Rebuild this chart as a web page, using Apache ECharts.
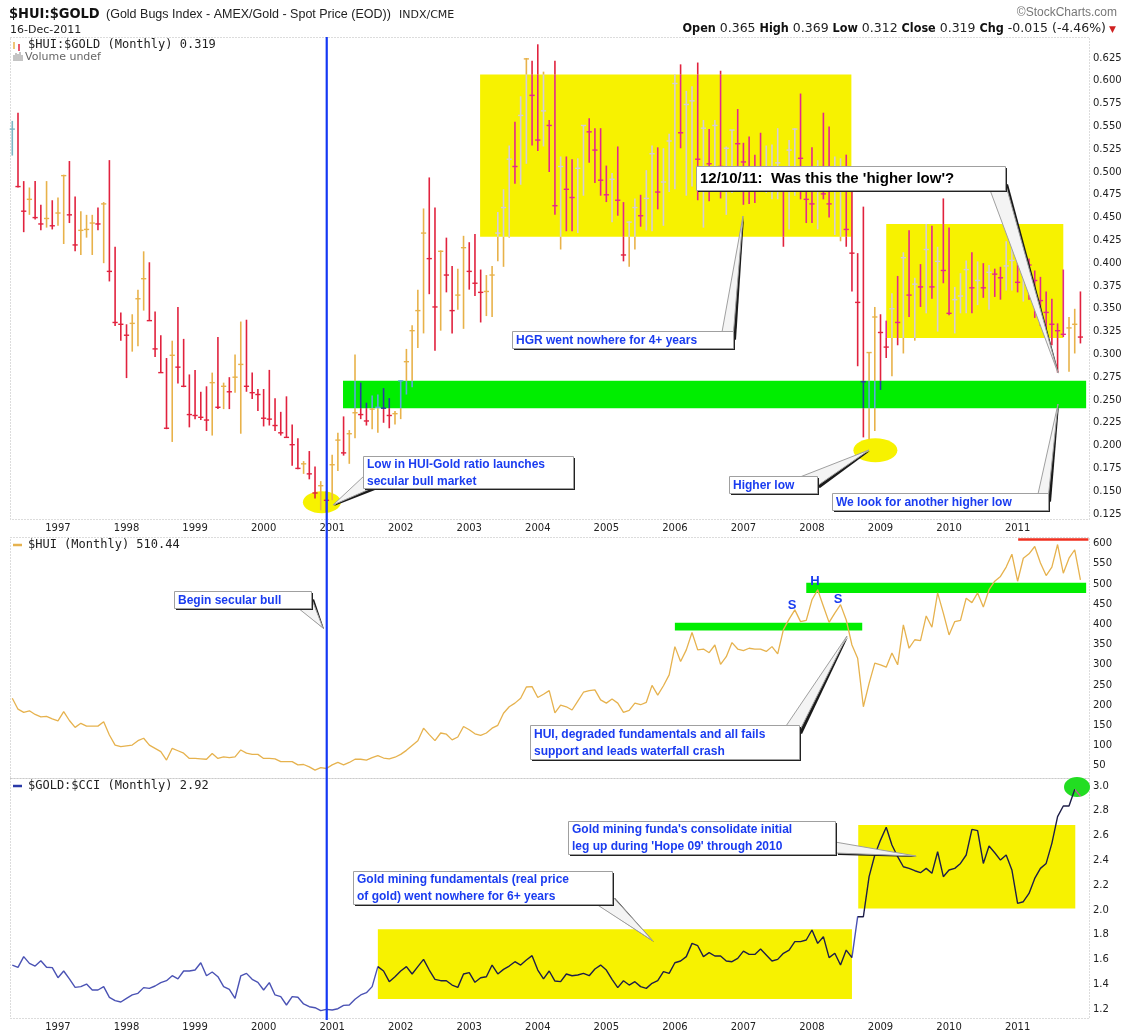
<!DOCTYPE html>
<html>
<head>
<meta charset="utf-8">
<script src="https://cdn.jsdelivr.net/npm/echarts@6/dist/echarts.min.js"></script>
<style>
  html, body { margin: 0; padding: 0; background: #fff; }
  #chart { width: 1127px; height: 1034px; }
</style>
</head>
<body>
<div id="chart"></div>
<script>
// first bar is May 1996, one bar per month up to Dec 2011
var startYear = 1996, startMonth = 5;
var years = [1997, 1998, 1999, 2000, 2001, 2002, 2003, 2004, 2005, 2006, 2007, 2008, 2009, 2010, 2011];

var hgrTicks = [0.125, 0.15, 0.175, 0.2, 0.225, 0.25, 0.275, 0.3, 0.325, 0.35, 0.375, 0.4, 0.425,
  0.45, 0.475, 0.5, 0.525, 0.55, 0.575, 0.6, 0.625];
var huiTicks = [50, 100, 150, 200, 250, 300, 350, 400, 450, 500, 550, 600];
var cciTicks = [1.2, 1.4, 1.6, 1.8, 2.0, 2.2, 2.4, 2.6, 2.8, 3.0];

// $HUI:$GOLD monthly bars
var hgrHigh = [
  0.556, 0.565, 0.490, 0.483, 0.490, 0.464, 0.490, 0.469, 0.472, 0.497,
  0.512, 0.473, 0.457, 0.453, 0.453, 0.461, 0.467, 0.513, 0.418, 0.346,
  0.333, 0.344, 0.371, 0.413, 0.401, 0.347, 0.321, 0.296, 0.315, 0.352,
  0.317, 0.278, 0.283, 0.259, 0.265, 0.280, 0.319, 0.269, 0.275, 0.300,
  0.336, 0.338, 0.280, 0.262, 0.262, 0.283, 0.252, 0.237, 0.254, 0.223,
  0.208, 0.183, 0.194, 0.177, 0.161, 0.150, 0.190, 0.214, 0.232, 0.217,
  0.300, 0.269, 0.247, 0.255, 0.256, 0.263, 0.252, 0.238, 0.271, 0.306,
  0.332, 0.371, 0.460, 0.494, 0.461, 0.414, 0.428, 0.397, 0.394, 0.430,
  0.423, 0.432, 0.393, 0.387, 0.397, 0.456, 0.481, 0.529, 0.555, 0.583,
  0.625, 0.622, 0.640, 0.610, 0.557, 0.622, 0.517, 0.517, 0.514, 0.515,
  0.551, 0.559, 0.548, 0.548, 0.507, 0.499, 0.528, 0.467, 0.446, 0.471,
  0.475, 0.502, 0.529, 0.527, 0.526, 0.542, 0.607, 0.618, 0.589, 0.594,
  0.620, 0.557, 0.547, 0.557, 0.611, 0.528, 0.546, 0.569, 0.532, 0.539,
  0.519, 0.543, 0.529, 0.530, 0.548, 0.500, 0.535, 0.548, 0.586, 0.490,
  0.527, 0.513, 0.565, 0.550, 0.517, 0.515, 0.519, 0.483, 0.411, 0.462,
  0.302, 0.352, 0.344, 0.337, 0.367, 0.386, 0.412, 0.436, 0.384, 0.399,
  0.443, 0.441, 0.418, 0.471, 0.439, 0.374, 0.389, 0.403, 0.412, 0.402,
  0.400, 0.398, 0.394, 0.396, 0.424, 0.422, 0.411, 0.400, 0.405, 0.392,
  0.385, 0.369, 0.361, 0.334, 0.393, 0.341, 0.350, 0.369
];
var hgrLow = [
  0.518, 0.483, 0.434, 0.453, 0.448, 0.436, 0.439, 0.437, 0.441, 0.421,
  0.444, 0.413, 0.409, 0.428, 0.409, 0.436, 0.400, 0.380, 0.331, 0.315,
  0.274, 0.303, 0.309, 0.348, 0.337, 0.297, 0.280, 0.218, 0.204, 0.268,
  0.264, 0.220, 0.229, 0.228, 0.216, 0.211, 0.240, 0.240, 0.240, 0.258,
  0.213, 0.259, 0.251, 0.238, 0.221, 0.222, 0.216, 0.211, 0.209, 0.178,
  0.174, 0.169, 0.163, 0.142, 0.129, 0.127, 0.140, 0.172, 0.189, 0.180,
  0.208, 0.229, 0.222, 0.218, 0.214, 0.225, 0.219, 0.223, 0.229, 0.256,
  0.264, 0.307, 0.323, 0.366, 0.304, 0.326, 0.368, 0.323, 0.349, 0.328,
  0.371, 0.364, 0.335, 0.342, 0.341, 0.402, 0.396, 0.428, 0.487, 0.486,
  0.509, 0.529, 0.523, 0.528, 0.500, 0.453, 0.415, 0.435, 0.435, 0.433,
  0.474, 0.510, 0.488, 0.474, 0.467, 0.445, 0.452, 0.402, 0.396, 0.415,
  0.440, 0.436, 0.435, 0.459, 0.441, 0.478, 0.481, 0.526, 0.474, 0.484,
  0.469, 0.439, 0.468, 0.486, 0.471, 0.453, 0.477, 0.484, 0.464, 0.465,
  0.466, 0.485, 0.477, 0.470, 0.470, 0.418, 0.437, 0.474, 0.470, 0.444,
  0.444, 0.437, 0.470, 0.450, 0.431, 0.424, 0.418, 0.369, 0.287, 0.209,
  0.207, 0.216, 0.261, 0.296, 0.276, 0.310, 0.301, 0.341, 0.315, 0.352,
  0.345, 0.361, 0.325, 0.378, 0.343, 0.323, 0.345, 0.345, 0.345, 0.354,
  0.362, 0.349, 0.363, 0.360, 0.370, 0.370, 0.368, 0.358, 0.360, 0.340,
  0.331, 0.320, 0.310, 0.280, 0.319, 0.281, 0.301, 0.312
];
var hgrClose = [
  0.547, 0.484, 0.457, 0.470, 0.450, 0.443, 0.449, 0.441, 0.455, 0.496,
  0.453, 0.420, 0.436, 0.437, 0.444, 0.443, 0.465, 0.391, 0.335, 0.333,
  0.321, 0.334, 0.361, 0.383, 0.337, 0.306, 0.280, 0.219, 0.299, 0.286,
  0.265, 0.234, 0.233, 0.231, 0.228, 0.269, 0.242, 0.265, 0.259, 0.275,
  0.289, 0.265, 0.258, 0.256, 0.230, 0.229, 0.222, 0.214, 0.209, 0.201,
  0.175, 0.180, 0.169, 0.148, 0.156, 0.140, 0.179, 0.206, 0.192, 0.213,
  0.236, 0.234, 0.227, 0.240, 0.242, 0.241, 0.233, 0.235, 0.271, 0.292,
  0.326, 0.348, 0.433, 0.405, 0.352, 0.413, 0.387, 0.348, 0.365, 0.417,
  0.391, 0.378, 0.368, 0.369, 0.387, 0.433, 0.461, 0.514, 0.506, 0.562,
  0.624, 0.584, 0.535, 0.567, 0.551, 0.463, 0.506, 0.481, 0.472, 0.504,
  0.551, 0.544, 0.524, 0.491, 0.475, 0.492, 0.469, 0.409, 0.445, 0.461,
  0.452, 0.471, 0.520, 0.478, 0.489, 0.534, 0.597, 0.543, 0.574, 0.578,
  0.514, 0.548, 0.509, 0.551, 0.506, 0.526, 0.546, 0.531, 0.511, 0.505,
  0.490, 0.487, 0.500, 0.505, 0.510, 0.480, 0.524, 0.547, 0.515, 0.470,
  0.465, 0.490, 0.476, 0.465, 0.480, 0.485, 0.437, 0.411, 0.357, 0.270,
  0.302, 0.341, 0.324, 0.308, 0.350, 0.335, 0.406, 0.365, 0.377, 0.374,
  0.415, 0.374, 0.402, 0.392, 0.345, 0.360, 0.364, 0.393, 0.373, 0.381,
  0.373, 0.390, 0.388, 0.384, 0.397, 0.403, 0.379, 0.400, 0.398, 0.381,
  0.359, 0.346, 0.333, 0.326, 0.322, 0.329, 0.333, 0.319
];

// $HUI monthly close
var hui = [
  217, 190, 182, 186, 177, 171, 172, 166, 161, 184,
  162, 145, 155, 148, 148, 148, 159, 126, 101, 97,
  99, 101, 112, 118, 101, 93, 85, 64, 93, 87,
  81, 68, 68, 67, 66, 80, 68, 72, 70, 72,
  89, 81, 78, 78, 68, 68, 67, 60, 60, 60,
  52, 53, 47, 39, 45, 43, 52, 58, 52, 58,
  66, 66, 64, 70, 75, 69, 67, 71, 78, 88,
  100, 112, 143, 127, 112, 131, 128, 114, 121, 147,
  139, 129, 125, 131, 143, 150, 180, 196, 205, 217,
  245, 246, 219, 227, 236, 181, 200, 196, 188, 210,
  232, 236, 238, 213, 205, 215, 205, 182, 187, 205,
  201, 207, 249, 225, 248, 275, 345, 308, 337, 380,
  337, 339, 330, 349, 301, 320, 355, 339, 335, 341,
  339, 339, 333, 345, 327, 387, 413, 436, 407, 410,
  461, 486, 445, 405, 428, 449, 411, 349, 316, 196,
  254, 304, 300, 294, 329, 300, 399, 341, 362, 360,
  421, 393, 478, 428, 374, 407, 410, 465, 454, 478,
  443, 486, 507, 519, 542, 574, 507, 564, 575, 593,
  552, 521, 542, 598, 527, 564, 585, 510.44
];

// $GOLD:$CCI monthly close
var goldCci = [
  1.556, 1.538, 1.624, 1.570, 1.548, 1.591, 1.538, 1.535, 1.454, 1.508,
  1.444, 1.376, 1.382, 1.403, 1.355, 1.355, 1.382, 1.296, 1.269, 1.258,
  1.288, 1.315, 1.328, 1.374, 1.368, 1.387, 1.414, 1.430, 1.470, 1.444,
  1.508, 1.508, 1.516, 1.575, 1.470, 1.500, 1.462, 1.382, 1.360, 1.288,
  1.468, 1.489, 1.441, 1.417, 1.355, 1.414, 1.315, 1.301, 1.234, 1.301,
  1.296, 1.242, 1.220, 1.212, 1.188, 1.199, 1.194, 1.204, 1.231, 1.234,
  1.280, 1.315, 1.333, 1.382, 1.543, 1.508, 1.422, 1.462, 1.508, 1.543,
  1.484, 1.543, 1.602, 1.516, 1.441, 1.430, 1.430, 1.395, 1.376, 1.484,
  1.495, 1.417, 1.454, 1.462, 1.556, 1.484, 1.521, 1.548, 1.583, 1.556,
  1.597, 1.632, 1.516, 1.444, 1.508, 1.427, 1.422, 1.484, 1.470, 1.476,
  1.489, 1.470, 1.524, 1.556, 1.516, 1.441, 1.374, 1.430, 1.395, 1.422,
  1.382, 1.368, 1.409, 1.430, 1.503, 1.489, 1.575, 1.589, 1.624, 1.731,
  1.712, 1.624, 1.656, 1.629, 1.629, 1.589, 1.583, 1.610, 1.669, 1.642,
  1.642, 1.685, 1.637, 1.589, 1.602, 1.651, 1.677, 1.745, 1.745, 1.758,
  1.839, 1.731, 1.785, 1.616, 1.651, 1.556, 1.677, 1.616, 1.946, 1.946,
  2.269, 2.444, 2.564, 2.667, 2.524, 2.430, 2.349, 2.336, 2.317, 2.301,
  2.336, 2.296, 2.470, 2.269, 2.323, 2.336, 2.376, 2.444, 2.651, 2.640,
  2.376, 2.516, 2.462, 2.403, 2.444, 2.323, 2.054, 2.067, 2.134, 2.255,
  2.336, 2.376, 2.538, 2.753, 2.839, 2.839, 2.973, 2.92
];

// hand drawn annotation boxes, in month index / value units: [x0, x1, yLow, yHigh]
var hgrYellow = [[81.9, 146.9, 0.429, 0.607], [153.0, 184.0, 0.318, 0.443]];
var hgrGreen = [[57.9, 188.0, 0.241, 0.271]];
var huiGreen = [[116.0, 148.8, 385, 404], [139.0, 188.0, 478, 503]];
var cciYellow = [[64.0, 147.0, 1.282, 1.844], [148.1, 186.1, 2.013, 2.685]];

var janIdx = years.map(function (y) { return (y - startYear) * 12 - (startMonth - 1); });

var barColors = {
  first: '#7db6c4',
  up: '#e8b24a', down: '#e1223e',
  yellowUp: '#d5ccd8', yellowDown: '#e5288c',
  greenUp: '#5aa8dc', greenDown: '#2b3aa0'
};

function zoneAt(i, v) {
  for (var k = 0; k < hgrYellow.length; k++) {
    var b = hgrYellow[k];
    if (i >= b[0] && i <= b[1] && v >= b[2] && v <= b[3]) return 'yellow';
  }
  for (k = 0; k < hgrGreen.length; k++) {
    b = hgrGreen[k];
    if (i >= b[0] && i <= b[1] && v >= b[2] && v <= b[3]) return 'green';
  }
  return '';
}

function barColor(i, v, up) {
  if (up === null) return barColors.first;
  var z = zoneAt(i, v);
  if (z === 'yellow') return up ? barColors.yellowUp : barColors.yellowDown;
  if (z === 'green') return up ? barColors.greenUp : barColors.greenDown;
  return up ? barColors.up : barColors.down;
}

function renderBar(params, api) {
  var i = api.value(0), hi = api.value(1), lo = api.value(2), cl = api.value(3);
  var idx = params.dataIndex;
  var up = idx > 0 ? cl >= hgrClose[idx - 1] : null;
  // split the high-low line where it crosses a shaded box, StockCharts recolours that part
  var cuts = [lo, hi];
  hgrYellow.concat(hgrGreen).forEach(function (b) {
    if (i >= b[0] && i <= b[1]) {
      [b[2], b[3]].forEach(function (v) { if (v > lo && v < hi) cuts.push(v); });
    }
  });
  cuts.sort(function (a, b) { return a - b; });
  var x = api.coord([i, hi])[0];
  var children = [];
  for (var k = 0; k < cuts.length - 1; k++) {
    var mid = (cuts[k] + cuts[k + 1]) / 2;
    children.push({
      type: 'line',
      shape: { x1: x, y1: api.coord([i, cuts[k]])[1], x2: x, y2: api.coord([i, cuts[k + 1]])[1] },
      style: { stroke: barColor(i, mid, up), lineWidth: 1.6 }
    });
  }
  var yc = api.coord([i, cl])[1];
  children.push({
    type: 'line',
    shape: { x1: x - 2.6, y1: yc, x2: x + 2.6, y2: yc },
    style: { stroke: barColor(i, cl, up), lineWidth: 1.4 }
  });
  return { type: 'group', children: children };
}

function renderBox(params, api) {
  var p0 = api.coord([api.value(0), api.value(3)]);
  var p1 = api.coord([api.value(1), api.value(2)]);
  return {
    type: 'rect',
    shape: { x: p0[0], y: p0[1], width: p1[0] - p0[0], height: p1[1] - p0[1] },
    style: { fill: api.visual('color') }
  };
}

var axisFont = { fontFamily: 'DejaVu Sans', fontSize: 10, color: '#222' };

function xAxisFor(g, labels) {
  return {
    type: 'value', gridIndex: g, min: -0.4, max: 188.5,
    axisLine: { show: false }, axisTick: { show: false }, splitLine: { show: false },
    axisLabel: {
      show: labels, margin: 4,
      customValues: janIdx,
      formatter: function (v) { return String(years[Math.round((v - janIdx[0]) / 12)]); },
      fontFamily: axisFont.fontFamily, fontSize: axisFont.fontSize, color: axisFont.color
    }
  };
}

function yAxisFor(g, min, max, ticks, digits) {
  return {
    type: 'value', gridIndex: g, position: 'right', min: min, max: max,
    axisLine: { show: false }, splitLine: { show: false }, axisTick: { show: false },
    axisLabel: {
      margin: 4, customValues: ticks,
      formatter: function (v) { return v.toFixed(digits); },
      fontFamily: axisFont.fontFamily, fontSize: axisFont.fontSize, color: axisFont.color
    }
  };
}

var chart = echarts.init(document.getElementById('chart'), null, { renderer: 'canvas' });

var option = {
  animation: false,
  backgroundColor: '#fff',
  grid: [
    { left: 10, right: 38, top: 37, height: 482 },
    { left: 10, right: 38, top: 537, height: 241 },
    { left: 10, right: 38, top: 778, height: 240 }
  ],
  xAxis: [xAxisFor(0, true), xAxisFor(1, false), xAxisFor(2, true)],
  yAxis: [
    yAxisFor(0, 0.1195, 0.648, hgrTicks, 3),
    yAxisFor(1, 19.5, 616.6, huiTicks, 0),
    yAxisFor(2, 1.129, 3.065, cciTicks, 1)
  ],
  visualMap: [{
    show: false, type: 'piecewise', seriesIndex: 6, dimension: 0,
    pieces: [
      { lt: cciYellow[0][0], color: '#4a52b4' },
      { gte: cciYellow[0][0], lt: cciYellow[0][1], color: '#1e1e48' },
      { gte: cciYellow[0][1], lt: cciYellow[1][0], color: '#4a52b4' },
      { gte: cciYellow[1][0], lt: cciYellow[1][1], color: '#1e1e48' },
      { gte: cciYellow[1][1], color: '#c05a9a' }
    ]
  }],
  series: [
    { type: 'custom', name: 'yellow', xAxisIndex: 0, yAxisIndex: 0, z: 1, silent: true,
      itemStyle: { color: '#f7f200' }, renderItem: renderBox, data: hgrYellow },
    { type: 'custom', name: 'green', xAxisIndex: 0, yAxisIndex: 0, z: 1, silent: true,
      itemStyle: { color: '#00ee00' }, renderItem: renderBox, data: hgrGreen },
    { type: 'custom', name: '$HUI:$GOLD', xAxisIndex: 0, yAxisIndex: 0, z: 3,
      renderItem: renderBar,
      data: hgrClose.map(function (c, i) { return [i, hgrHigh[i], hgrLow[i], c]; }) },
    { type: 'custom', name: 'huiGreen', xAxisIndex: 1, yAxisIndex: 1, z: 1, silent: true,
      itemStyle: { color: '#00ee00' }, renderItem: renderBox, data: huiGreen },
    { type: 'line', name: '$HUI', xAxisIndex: 1, yAxisIndex: 1, z: 3,
      symbol: 'none', lineStyle: { color: '#e6b24e', width: 1.3 }, itemStyle: { color: '#e6b24e' },
      data: hui.map(function (v, i) { return [i, v]; }),
      markLine: {
        silent: true, symbol: 'none', label: { show: false },
        lineStyle: { color: '#f03020', width: 2.5, type: 'solid' },
        data: [[{ coord: [176.1, 611] }, { coord: [188.4, 611] }]]
      } },
    { type: 'custom', name: 'cciYellow', xAxisIndex: 2, yAxisIndex: 2, z: 1, silent: true,
      itemStyle: { color: '#f7f200' }, renderItem: renderBox, data: cciYellow },
    { type: 'line', name: '$GOLD:$CCI', xAxisIndex: 2, yAxisIndex: 2, z: 3,
      symbol: 'none', lineStyle: { width: 1.4 },
      data: goldCci.map(function (v, i) { return [i, v]; }) }
  ]
};

chart.setOption(option);

function px(g, i, v) { return chart.convertToPixel({ gridIndex: g }, [i, v]); }

var blue = '#1a3cf0';
var graphics = [];

// panel frames
[[10, 37, 1079, 482], [10, 537, 1079, 241], [10, 778, 1079, 240]].forEach(function (r) {
  graphics.push({ type: 'rect', z: 0, silent: true,
    shape: { x: r[0] + 0.5, y: r[1] + 0.5, width: r[2], height: r[3] },
    style: { fill: null, stroke: '#b8b8b8', lineWidth: 1, lineDash: [1, 2] } });
});

// yellow / green ellipses
function ellipse(g, i, v, rx, ry, color, z) {
  var p = px(g, i, v);
  graphics.push({ type: 'ellipse', z: z, silent: true,
    shape: { cx: p[0], cy: p[1], rx: rx, ry: ry }, style: { fill: color } });
}
ellipse(0, 54.2, 0.138, 19, 11, '#f7f200', 2);
ellipse(0, 151.1, 0.195, 22, 12, '#f7f200', 2);
ellipse(2, 186.4, 2.992, 13, 10, '#22dd22', 2);

// vertical "begin secular bull" line through all panels
var vx = px(0, 55.05, 0.3)[0];
graphics.push({ type: 'line', z: 40, silent: true,
  shape: { x1: vx, y1: 37, x2: vx, y2: 1020 }, style: { stroke: '#1438f4', lineWidth: 2.2 } });

function callout(c) {
  var b0 = c.base[0], b1 = c.base[1], t = c.tip;
  graphics.push({ type: 'polygon', z: 50, silent: true,
    shape: { points: [[b0[0] + 2, b0[1] + 1], [b1[0] + 3, b1[1] + 2], [t[0] + 1, t[1] + 1]] },
    style: { fill: '#1a1a1a' } });
  graphics.push({ type: 'polygon', z: 51, silent: true,
    shape: { points: [b0, b1, t] },
    style: { fill: '#f4f4f4', stroke: '#a0a0a0', lineWidth: 1 } });
  graphics.push({ type: 'rect', z: 52, silent: true,
    shape: { x: c.x + 2, y: c.y + 2, width: c.w, height: c.h }, style: { fill: '#222' } });
  graphics.push({ type: 'rect', z: 53, silent: true,
    shape: { x: c.x + 0.5, y: c.y + 0.5, width: c.w, height: c.h },
    style: { fill: '#fff', stroke: '#a0a0a0', lineWidth: 1 } });
  graphics.push({ type: 'text', z: 54, silent: true, x: c.x + 4, y: c.y + c.h / 2 + 1,
    style: { text: c.text, fill: c.color || blue, font: c.font || 'bold 12px "Liberation Sans"',
      verticalAlign: 'middle', lineHeight: 17 } });
}

callout({ x: 363, y: 456, w: 210, h: 32, text: 'Low in HUI-Gold ratio launches\nsecular bull market',
  base: [[364, 476], [372, 488]], tip: [333, 505] });
callout({ x: 512, y: 331, w: 221, h: 17, text: 'HGR went nowhere for 4+ years',
  base: [[722, 332], [733, 338]], tip: [743, 216] });
callout({ x: 696, y: 166, w: 309, h: 24, text: "12/10/11:  Was this the 'higher low'?",
  color: '#000', font: 'bold 15px "Liberation Sans"',
  base: [[990, 190], [1005, 182]], tip: [1058, 373] });
callout({ x: 729, y: 476, w: 88, h: 17, text: 'Higher low',
  base: [[800, 477], [817, 486]], tip: [869, 450] });
callout({ x: 832, y: 493, w: 216, h: 17, text: 'We look for another higher low',
  base: [[1038, 494], [1048, 500]], tip: [1058, 404] });
callout({ x: 174, y: 591, w: 137, h: 17, text: 'Begin secular bull',
  base: [[298, 608], [311, 597]], tip: [323, 628] });
callout({ x: 530, y: 725, w: 269, h: 34, text: 'HUI, degraded fundamentals and all fails\nsupport and leads waterfall crash',
  base: [[786, 726], [799, 732]], tip: [847, 636] });
callout({ x: 353, y: 871, w: 259, h: 33, text: 'Gold mining fundamentals (real price\nof gold) went nowhere for 6+ years',
  base: [[596, 904], [612, 896]], tip: [653, 941] });
callout({ x: 568, y: 821, w: 267, h: 33, text: "Gold mining funda's consolidate initial\nleg up during 'Hope 09' through 2010",
  base: [[835, 842], [835, 853]], tip: [916, 856] });

// head and shoulders letters
[['S', 792, 605], ['H', 815, 581], ['S', 838, 599]].forEach(function (s) {
  graphics.push({ type: 'text', z: 30, silent: true, x: s[1], y: s[2],
    style: { text: s[0], fill: blue, font: 'bold 13px "Liberation Sans"', align: 'center', verticalAlign: 'middle' } });
});

// header
graphics.push({ type: 'text', z: 60, x: 9, y: 14, style: { text: '$HUI:$GOLD', fill: '#111',
  font: 'bold 14.5px "DejaVu Sans Condensed"', verticalAlign: 'middle' } });
graphics.push({ type: 'text', z: 60, x: 106, y: 15, style: {
  text: '(Gold Bugs Index - AMEX/Gold - Spot Price (EOD))', fill: '#222',
  font: '12.5px "Liberation Sans"', verticalAlign: 'middle' } });
graphics.push({ type: 'text', z: 60, x: 399, y: 15, style: {
  text: 'INDX/CME', fill: '#222', font: '11px "DejaVu Sans"', verticalAlign: 'middle' } });
graphics.push({ type: 'text', z: 60, x: 10, y: 30, style: { text: '16-Dec-2011', fill: '#222',
  font: '11px "DejaVu Sans"', verticalAlign: 'middle' } });
graphics.push({ type: 'text', z: 60, x: 1117, y: 13, style: { text: '\u00a9StockCharts.com', fill: '#777',
  font: '12px "Liberation Sans"', align: 'right', verticalAlign: 'middle' } });
graphics.push({ type: 'text', z: 60, x: 1106, y: 29, style: {
  text: '{b|Open} 0.365 {b|High} 0.369 {b|Low} 0.312 {b|Close} 0.319 {b|Chg} -0.015 (-4.46%)',
  fill: '#222', font: '12.5px "DejaVu Sans"', align: 'right', verticalAlign: 'middle',
  rich: { b: { font: 'bold 12.5px "DejaVu Sans Condensed"', fill: '#111' } } } });
graphics.push({ type: 'text', z: 60, x: 1109, y: 30, style: { text: '\u25bc', fill: '#d02020',
  font: '9px "DejaVu Sans"', verticalAlign: 'middle' } });

// panel legends
var mono = '12px "DejaVu Sans Mono"';
graphics.push({ type: 'line', z: 60, shape: { x1: 14, y1: 42, x2: 14, y2: 49 }, style: { stroke: '#e8b24a', lineWidth: 1.5 } });
graphics.push({ type: 'line', z: 60, shape: { x1: 19, y1: 44, x2: 19, y2: 51 }, style: { stroke: '#e1223e', lineWidth: 1.5 } });
graphics.push({ type: 'text', z: 60, x: 28, y: 45, style: { text: '$HUI:$GOLD (Monthly) 0.319', fill: '#222', font: mono, verticalAlign: 'middle' } });
[[14, 55], [16, 53], [18, 54], [20, 52], [22, 55]].forEach(function (b) {
  graphics.push({ type: 'line', z: 60, shape: { x1: b[0], y1: 61, x2: b[0], y2: b[1] }, style: { stroke: '#888', lineWidth: 1 } });
});
graphics.push({ type: 'text', z: 60, x: 25, y: 57, style: { text: 'Volume undef', fill: '#666', font: '11px "DejaVu Sans"', verticalAlign: 'middle' } });
graphics.push({ type: 'line', z: 60, shape: { x1: 13, y1: 545, x2: 22, y2: 545 }, style: { stroke: '#e6b24e', lineWidth: 2.5 } });
graphics.push({ type: 'text', z: 60, x: 28, y: 545, style: { text: '$HUI (Monthly) 510.44', fill: '#222', font: mono, verticalAlign: 'middle' } });
graphics.push({ type: 'line', z: 60, shape: { x1: 13, y1: 786, x2: 22, y2: 786 }, style: { stroke: '#2a3aa8', lineWidth: 2.5 } });
graphics.push({ type: 'text', z: 60, x: 28, y: 786, style: { text: '$GOLD:$CCI (Monthly) 2.92', fill: '#222', font: mono, verticalAlign: 'middle' } });

chart.setOption({ graphic: graphics });
</script>
</body>
</html>
